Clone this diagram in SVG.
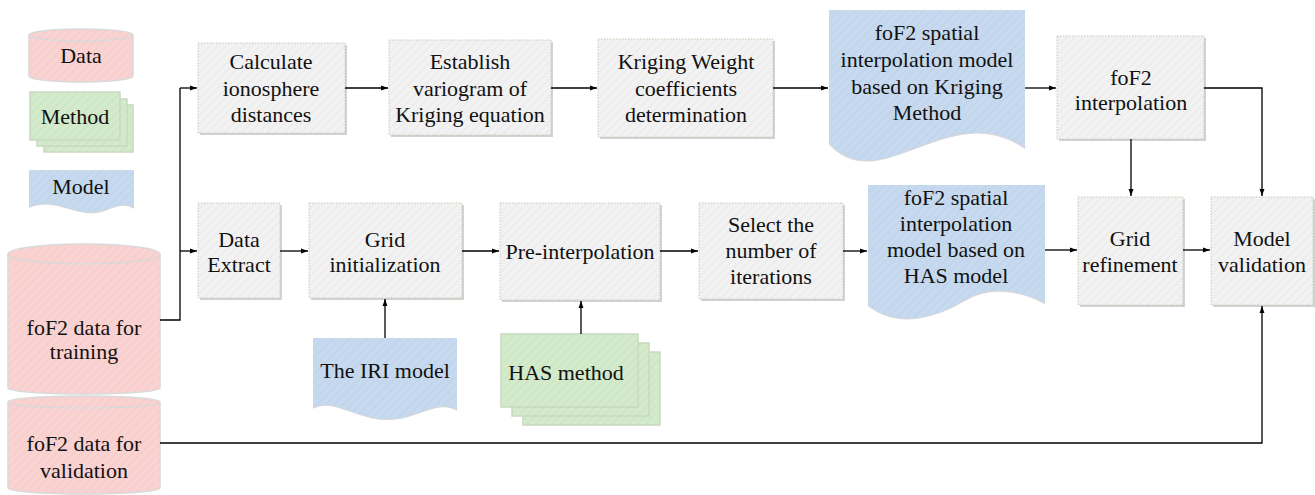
<svg xmlns="http://www.w3.org/2000/svg" width="1315" height="495" viewBox="0 0 1315 495">
<defs>
<pattern id="hg" width="6" height="6" patternUnits="userSpaceOnUse" patternTransform="rotate(45)"><rect width="6" height="6" fill="#f2f2f2"/><line x1="0" y1="0" x2="0" y2="6" stroke="#e6e6e6" stroke-width="1.5"/></pattern>
<pattern id="hp" width="6" height="6" patternUnits="userSpaceOnUse" patternTransform="rotate(45)"><rect width="6" height="6" fill="#f9d3d1"/><line x1="0" y1="0" x2="0" y2="6" stroke="#f5c8c6" stroke-width="1.5"/></pattern>
<pattern id="hgr" width="6" height="6" patternUnits="userSpaceOnUse" patternTransform="rotate(45)"><rect width="6" height="6" fill="#d3eacb"/><line x1="0" y1="0" x2="0" y2="6" stroke="#c8e3bf" stroke-width="1.5"/></pattern>
<pattern id="hb" width="6" height="6" patternUnits="userSpaceOnUse" patternTransform="rotate(45)"><rect width="6" height="6" fill="#c6d9ee"/><line x1="0" y1="0" x2="0" y2="6" stroke="#bcd1e8" stroke-width="1.5"/></pattern>
<marker id="ar" viewBox="0 0 10 10" refX="10" refY="5" markerWidth="7" markerHeight="7" orient="auto" markerUnits="userSpaceOnUse"><path d="M0,1.5 L10,5 L0,8.5 z" fill="#000"/></marker>
</defs>
<style>
.box{fill:url(#hg);stroke:#c9cbb4;stroke-width:1;stroke-dasharray:1.5 1.5}
.sh{fill:#d2d2d2}
.data{fill:url(#hp);stroke:#d9d9d9;stroke-width:1.5}
.meth{fill:url(#hgr);stroke:#c9d9c0;stroke-width:1.5}
.mod{fill:url(#hb);stroke:none}
.modsh{fill:none;stroke:#d8d8d8;stroke-width:2}
.c{fill:none;stroke:#000;stroke-width:1.3}
.ca{fill:none;stroke:#000;stroke-width:1.3;marker-end:url(#ar)}
</style>
<rect width="1315" height="495" fill="#fff"/>
<g font-size="22" text-anchor="middle" fill="#111">
<g id="legend-data">
<path class="data" d="M29,35 A52,6 0 0 1 133,35 V76 A52,6 0 0 1 29,76 Z"/>
<path d="M29,35 A52,6 0 0 0 133,35" fill="none" stroke="#d9d9d9" stroke-width="1.5"/>
<text x="81" y="63" style="font-family:'Liberation Serif'">Data</text>
</g>
<g id="legend-method">
<rect class="meth" x="44" y="105" width="89" height="47"/>
<rect class="meth" x="37" y="99" width="90" height="47"/>
<rect class="meth" x="30" y="92" width="90" height="48"/>
<text x="75" y="124" style="font-family:'Liberation Serif'">Method</text>
</g>
<g id="legend-model">
<path class="modsh" d="M29,207 C55,195 80,220 105,210 C118,205 126,202 134,208"/>
<path class="mod" d="M29,170 H134 V208 C126,202 118,205 105,210 C80,220 55,195 29,207 Z"/>
<text x="81" y="194" style="font-family:'Liberation Serif'">Model</text>
</g>

<g id="train">
<path class="data" d="M8,254 A76,10 0 0 1 160,254 V388 A76,6 0 0 1 8,388 Z"/>
<path d="M8,254 A76,10 0 0 0 160,254" fill="none" stroke="#d9d9d9" stroke-width="1.5"/>
<text x="84" y="335" style="font-family:'Liberation Serif'">foF2 data for</text>
<text x="84" y="359" style="font-family:'Liberation Serif'">training</text>
</g>
<g id="valid">
<path class="data" d="M8,402 A76,6 0 0 1 160,402 V488 A76,6 0 0 1 8,488 Z"/>
<path d="M8,402 A76,6 0 0 0 160,402" fill="none" stroke="#d9d9d9" stroke-width="1.5"/>
<text x="84" y="451" style="font-family:'Liberation Serif'">foF2 data for</text>
<text x="84" y="478" style="font-family:'Liberation Serif'">validation</text>
</g>

<g id="calc">
<rect class="sh" x="200" y="45" width="147" height="90"/>
<rect class="box" x="198" y="43" width="147" height="90"/>
<text x="271" y="69" style="font-family:'Liberation Serif'">Calculate</text>
<text x="271" y="96" style="font-family:'Liberation Serif'">ionosphere</text>
<text x="271" y="122" style="font-family:'Liberation Serif'">distances</text>
</g>
<g id="establish">
<rect class="sh" x="391" y="42" width="162" height="95"/>
<rect class="box" x="389" y="40" width="162" height="95"/>
<text x="470" y="69" style="font-family:'Liberation Serif'">Establish</text>
<text x="470" y="96" style="font-family:'Liberation Serif'">variogram of</text>
<text x="470" y="122" style="font-family:'Liberation Serif'">Kriging equation</text>
</g>
<g id="weight">
<rect class="sh" x="600" y="41" width="175" height="98"/>
<rect class="box" x="598" y="39" width="175" height="98"/>
<text x="686" y="69" style="font-family:'Liberation Serif'">Kriging Weight</text>
<text x="686" y="96" style="font-family:'Liberation Serif'">coefficients</text>
<text x="686" y="122" style="font-family:'Liberation Serif'">determination</text>
</g>
<g id="kriging-model">
<path class="modsh" d="M829,143 C880,200 950,95 1025,148"/>
<path class="mod" d="M829,10 H1025 V148 C950,95 880,200 829,143 Z"/>
<text x="927" y="40" style="font-family:'Liberation Serif'">foF2 spatial</text>
<text x="927" y="67" style="font-family:'Liberation Serif'">interpolation model</text>
<text x="927" y="94" style="font-family:'Liberation Serif'">based on Kriging</text>
<text x="927" y="120" style="font-family:'Liberation Serif'">Method</text>
</g>
<g id="interp">
<rect class="sh" x="1059" y="38" width="147" height="103"/>
<rect class="box" x="1057" y="36" width="147" height="103"/>
<text x="1131" y="85" style="font-family:'Liberation Serif'">foF2</text>
<text x="1131" y="110" style="font-family:'Liberation Serif'">interpolation</text>
</g>

<g id="extract">
<rect class="sh" x="200" y="205" width="82" height="95"/>
<rect class="box" x="198" y="203" width="82" height="95"/>
<text x="239" y="247" style="font-family:'Liberation Serif'">Data</text>
<text x="239" y="272" style="font-family:'Liberation Serif'">Extract</text>
</g>
<g id="gridinit">
<rect class="sh" x="311" y="205" width="153" height="95"/>
<rect class="box" x="309" y="203" width="153" height="95"/>
<text x="385" y="247" style="font-family:'Liberation Serif'">Grid</text>
<text x="385" y="272" style="font-family:'Liberation Serif'">initialization</text>
</g>
<g id="preinterp">
<rect class="sh" x="502" y="205" width="160" height="97"/>
<rect class="box" x="500" y="203" width="160" height="97"/>
<text x="580" y="259" style="font-family:'Liberation Serif'">Pre-interpolation</text>
</g>
<g id="select">
<rect class="sh" x="701" y="205" width="144" height="96"/>
<rect class="box" x="699" y="203" width="144" height="96"/>
<text x="771" y="232" style="font-family:'Liberation Serif'">Select the</text>
<text x="771" y="258" style="font-family:'Liberation Serif'">number of</text>
<text x="771" y="284" style="font-family:'Liberation Serif'">iterations</text>
</g>
<g id="has-model">
<path class="modsh" d="M868,305 C900,330 940,315 965,300 C990,285 1020,290 1045,303"/>
<path class="mod" d="M868,185 H1045 V303 C1020,290 990,285 965,300 C940,315 900,330 868,305 Z"/>
<text x="956" y="205" style="font-family:'Liberation Serif'">foF2 spatial</text>
<text x="956" y="231" style="font-family:'Liberation Serif'">interpolation</text>
<text x="956" y="257" style="font-family:'Liberation Serif'">model based on</text>
<text x="956" y="283" style="font-family:'Liberation Serif'">HAS model</text>
</g>
<g id="refine">
<rect class="sh" x="1080" y="199" width="105" height="108"/>
<rect class="box" x="1078" y="197" width="105" height="108"/>
<text x="1130" y="246" style="font-family:'Liberation Serif'">Grid</text>
<text x="1130" y="272" style="font-family:'Liberation Serif'">refinement</text>
</g>
<g id="validation">
<rect class="sh" x="1213" y="199" width="102" height="108"/>
<rect class="box" x="1211" y="197" width="102" height="108"/>
<text x="1262" y="246" style="font-family:'Liberation Serif'">Model</text>
<text x="1262" y="272" style="font-family:'Liberation Serif'">validation</text>
</g>

<g id="iri">
<path class="modsh" d="M313,408 C335,395 360,425 400,418 C425,413 440,400 457,410"/>
<path class="mod" d="M313,338 H457 V410 C440,400 425,413 400,418 C360,425 335,395 313,408 Z"/>
<text x="385" y="378" style="font-family:'Liberation Serif'">The IRI model</text>
</g>
<g id="has-method">
<rect class="meth" x="523" y="352" width="137" height="73"/>
<rect class="meth" x="512" y="343" width="137" height="73"/>
<rect class="meth" x="501" y="334" width="137" height="73"/>
<text x="566" y="380" style="font-family:'Liberation Serif'">HAS method</text>
</g>
</g>
<g id="connectors">
<path class="c" d="M160,320 H180 V88"/>
<path class="ca" d="M180,88 H197"/>
<path class="ca" d="M180,251 H197"/>
<path class="ca" d="M345,88 H388"/>
<path class="ca" d="M551,88 H597"/>
<path class="ca" d="M773,88 H828"/>
<path class="ca" d="M1025,88 H1056"/>
<path class="ca" d="M1131,139 V196"/>
<path class="ca" d="M1204,88 H1262 V196"/>
<path class="ca" d="M280,251 H308"/>
<path class="ca" d="M462,251 H499"/>
<path class="ca" d="M660,251 H698"/>
<path class="ca" d="M843,251 H867"/>
<path class="ca" d="M1045,250 H1077"/>
<path class="ca" d="M1183,250 H1210"/>
<path class="ca" d="M385,338 V299"/>
<path class="ca" d="M581,334 V301"/>
<path class="ca" d="M160,443 H1262 V306"/>
</g>
</svg>
